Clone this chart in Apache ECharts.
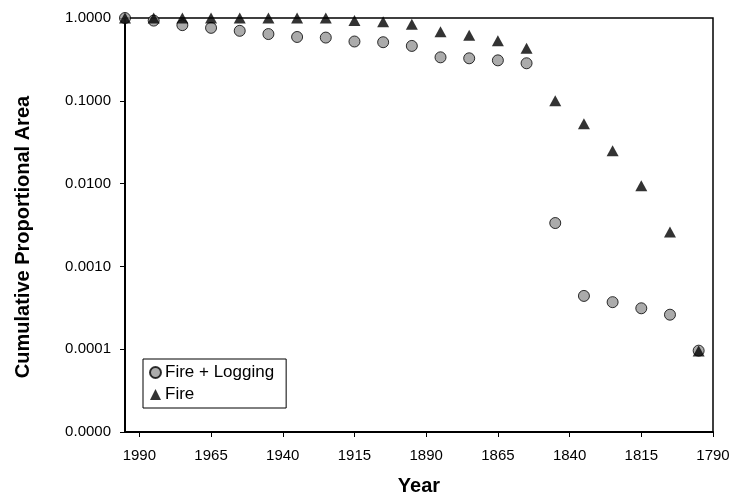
<!DOCTYPE html>
<html>
<head>
<meta charset="utf-8">
<script src="https://cdn.jsdelivr.net/npm/echarts@6/dist/echarts.min.js"></script>
<style>
  html, body { margin: 0; padding: 0; background: #fff; }
  #chart { width: 730px; height: 498px; }
</style>
</head>
<body>
<div id="chart"></div>
<script>
// data
var years = [1995, 1985, 1975, 1965, 1955, 1945, 1935, 1925, 1915, 1905, 1895,
             1885, 1875, 1865, 1855, 1845, 1835, 1825, 1815, 1805, 1795];
var fireLogging = [1.0, 0.93, 0.82, 0.76, 0.70, 0.64, 0.59, 0.58, 0.52, 0.51, 0.46,
                   0.335, 0.326, 0.308, 0.284, 0.00334, 0.00044, 0.00037, 0.000312, 0.000261, 0.000096];
var fire = [1.0, 1.0, 1.0, 1.0, 1.0, 1.0, 1.0, 1.0, 0.93, 0.90, 0.84,
            0.68, 0.62, 0.53, 0.43, 0.10, 0.053, 0.025, 0.0094, 0.0026, 0.000095];
var xTicks = [1790, 1815, 1840, 1865, 1890, 1915, 1940, 1965, 1990];
var seriesNames = ['Fire + Logging', 'Fire'];

function pairs(xs, ys) {
    return xs.map(function (x, i) { return [x, ys[i]]; });
}

var font = 'Liberation Sans, Arial, sans-serif';
var chart = echarts.init(document.getElementById('chart'), null, { renderer: 'canvas' });

var option = {
    animation: false,
    backgroundColor: '#fff',
    grid: {
        left: 125, right: 17, top: 18, bottom: 66,
        outerBoundsMode: 'none',
        containLabel: false,
        show: true,
        borderColor: '#000',
        borderWidth: 1.5
    },
    legend: {
        orient: 'vertical',
        left: 143,
        top: 359,
        padding: [5, 12, 5, 6],
        itemGap: 5,
        itemWidth: 11,
        itemHeight: 11,
        borderColor: '#000',
        borderWidth: 1,
        textStyle: { fontFamily: font, fontSize: 17, color: '#000', padding: [0, 0, 0, -1] },
        data: seriesNames
    },
    xAxis: {
        type: 'value',
        inverse: true,
        min: 1790,
        max: 1995,
        name: 'Year',
        nameLocation: 'middle',
        nameGap: 44,
        nameTextStyle: { fontFamily: font, fontSize: 20, fontWeight: 'bold', color: '#000' },
        axisLine: { lineStyle: { color: '#000', width: 2 } },
        axisTick: { show: true, length: 5, lineStyle: { color: '#000', width: 1 }, customValues: xTicks },
        axisLabel: {
            fontFamily: font, fontSize: 15, color: '#000', margin: 16, customValues: xTicks,
            formatter: function (v) { return String(v); }
        },
        splitLine: { show: false }
    },
    yAxis: {
        type: 'log',
        logBase: 10,
        min: 0.00001,
        max: 1,
        name: 'Cumulative Proportional Area',
        nameLocation: 'middle',
        nameGap: 92,
        nameTextStyle: {
            fontFamily: font, fontSize: 20, fontWeight: 'bold', color: '#000',
            padding: [0, 24, 0, 0]
        },
        axisLine: { show: true, lineStyle: { color: '#000', width: 2 } },
        axisTick: { show: true, length: 5, lineStyle: { color: '#000', width: 1 } },
        axisLabel: {
            fontFamily: font, fontSize: 15, color: '#000', margin: 14,
            formatter: function (v) { return v.toFixed(4); }
        },
        splitLine: { show: false }
    },
    series: [
        {
            name: seriesNames[0],
            type: 'scatter',
            symbol: 'circle',
            symbolSize: 11,
            itemStyle: { color: '#969696', borderColor: '#000', borderWidth: 1 },
            data: pairs(years, fireLogging),
            z: 2
        },
        {
            name: seriesNames[1],
            type: 'scatter',
            symbol: 'triangle',
            symbolSize: [12, 11],
            itemStyle: { color: '#000' },
            data: pairs(years, fire),
            z: 3
        }
    ]
};

chart.setOption(option);
</script>
</body>
</html>
